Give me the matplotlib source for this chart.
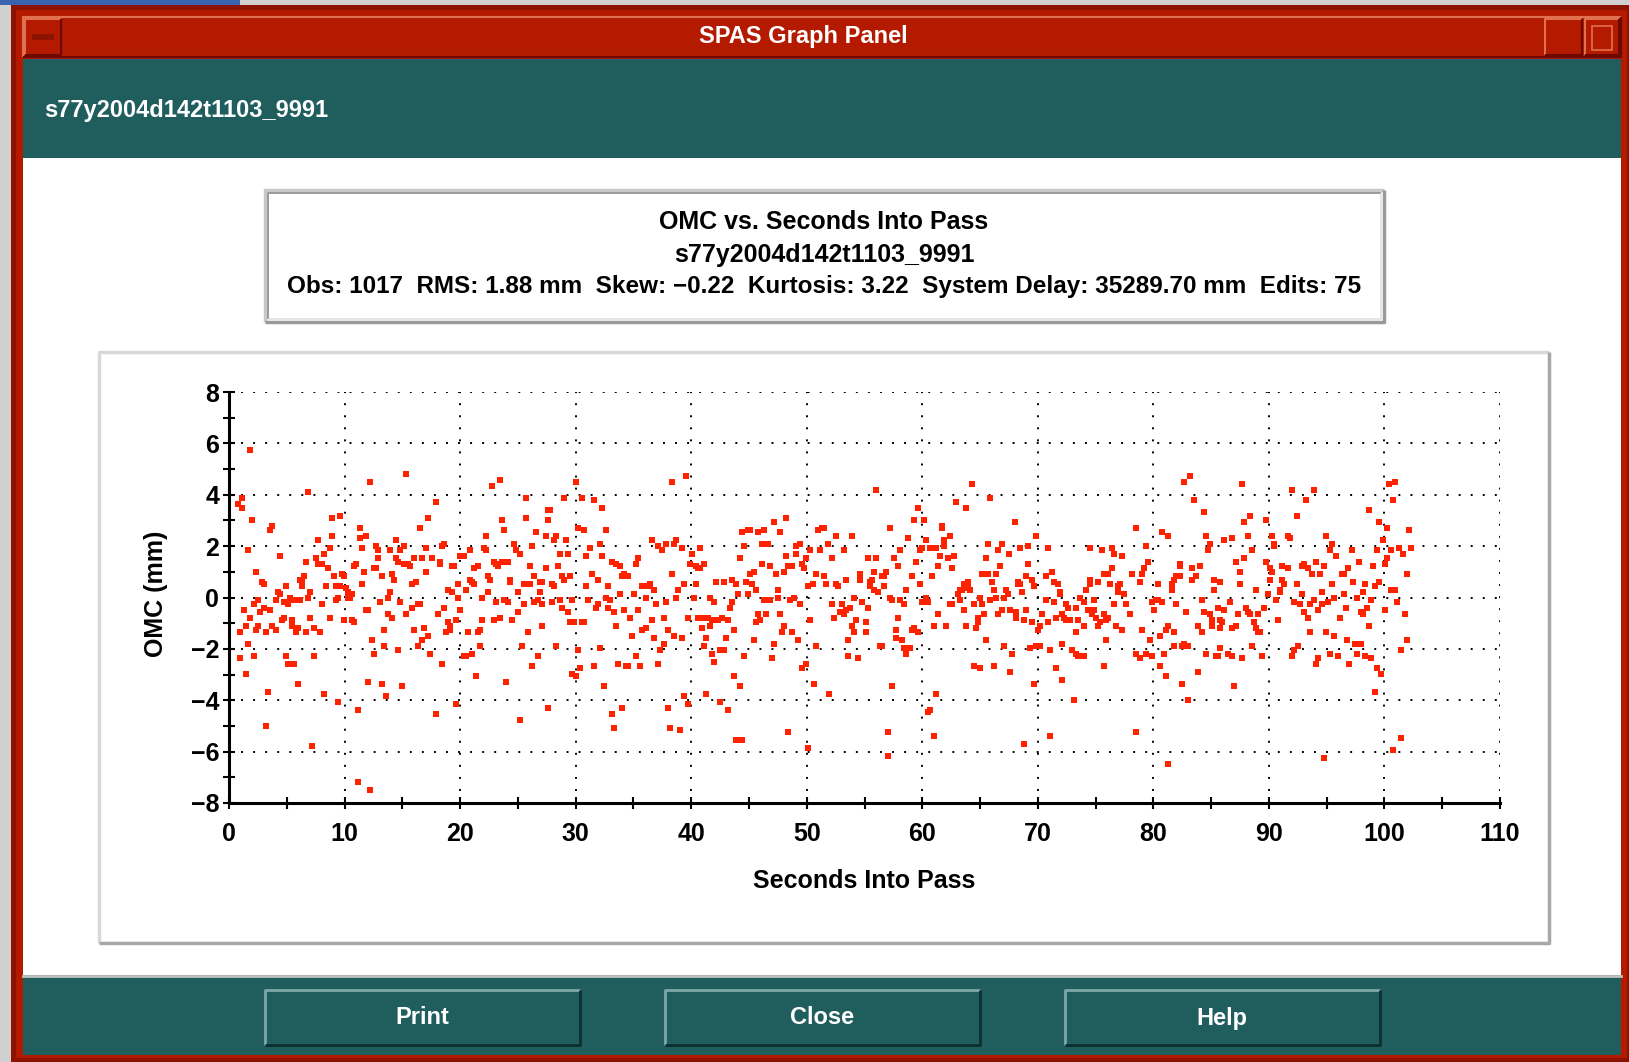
import matplotlib
matplotlib.use("Agg")
import matplotlib.pyplot as plt
from matplotlib.patches import Rectangle
from matplotlib.ticker import MultipleLocator

# --- texts -------------------------------------------------------------
window_title = "SPAS Graph Panel"
pass_id = "s77y2004d142t1103_9991"
chart_title = "OMC vs. Seconds Into Pass"
obs, rms, skew, kurt, delay, edits = 1017, 1.88, -0.22, 3.22, 35289.70, 75
x_label = "Seconds Into Pass"
y_label = "OMC (mm)"
buttons = ["Print", "Close", "Help"]
x_ticks = list(range(0, 111, 10))
y_ticks = list(range(-8, 9, 2))

pts_00_14 = [(1.82,5.74),(12.2,4.48),(6.84,4.09),(0.81,3.64),(1.13,3.87),(1.13,3.48),(1.99,3.01),(3.72,2.78),(3.55,2.62),(8.92,3.09),(9.61,3.17),(8.92,2.39),(7.71,2.23),(11.34,2.70),(11.86,2.39),(11.34,2.31),(11.5,1.92),(1.65,1.84),(4.42,1.61),(8.74,1.92),(8.23,1.69),(7.53,1.53),(7.71,1.30),(8.05,1.30),(6.67,1.38),(8.57,1.14),(9.09,0.83),(9.78,0.91),(9.96,0.83),(9.26,0.44),(9.61,0.44),(10.13,0.36),(10.3,0.21),(10.65,0.13),(10.3,-0.03),(10.48,-0.03),(9.44,-0.03),(9.26,-0.10),(10.82,1.22),(11.0,1.30),(11.69,0.99),(11.5,0.52),(12.73,2.0),(12.9,1.84),(12.9,1.53),(12.55,1.14),(12.73,1.14),(13.25,0.83),(13.07,-0.18),(11.86,-0.49),(12.03,-0.49),(9.96,-0.88),(10.65,-0.88),(10.82,-0.96),(12.38,-1.66),(13.42,-1.27),(13.42,-1.90),(12.55,-2.21),(12.03,-3.30),(13.25,-3.38),(13.6,-3.84),(11.17,-4.39),(9.44,-4.08),(8.23,-3.77),(7.19,-5.79),(3.2,-5.01),(3.38,-3.69),(5.97,-3.38),(1.47,-2.99),(0.95,-2.36),(2.16,-2.29),(4.93,-2.29),(5.11,-2.60),(5.63,-2.60),(7.36,-2.29),(1.65,-1.82),(0.95,-1.35),(1.47,-1.12),(1.82,-0.81),(1.3,-0.49),(2.16,-0.26),(2.51,-0.10),(2.68,-0.57),(2.34,-1.27),(2.51,-1.12),(3.03,-0.42),(3.2,-1.35),(3.55,-0.49),(3.72,-1.12),(4.07,-1.27),(4.07,-0.10),(4.24,0.21),(4.42,0.13),(4.76,-0.18),(4.93,0.44),(4.59,-0.88),(4.76,-0.81),(5.11,-0.26),(5.28,-0.03),(5.45,-0.88),(5.45,-1.12),(5.63,-0.10),(5.97,-1.19),(5.8,-1.35),(6.15,-0.10),(6.15,0.68),(6.32,0.60),(6.32,0.44),(6.5,0.83),(6.84,-0.03),(7.01,0.21),(7.01,-0.81),(6.67,-1.35),(7.36,-1.19),(7.88,-1.35),(8.05,-0.26),(8.74,-0.81),(8.4,0.44),(2.34,0.99),(2.86,0.60),(3.03,0.52),(11.17,-7.19),(12.2,-7.51)]

pts_14_27 = [(15.32,4.81),(17.92,3.71),(17.23,3.09),(16.54,2.70),(14.46,2.23),(13.94,1.84),(14.8,1.84),(15.15,2.0),(14.46,1.53),(14.63,1.38),(15.15,1.30),(15.5,1.30),(15.67,1.22),(16.02,1.53),(16.71,1.53),(17.07,1.92),(17.58,1.53),(18.27,1.38),(18.27,1.30),(18.44,2.0),(18.62,2.08),(17.07,0.99),(14.11,0.91),(14.29,0.68),(13.94,0.21),(13.77,-0.03),(14.8,-0.18),(15.84,0.52),(16.19,0.60),(15.84,-0.42),(16.36,-0.26),(16.54,-0.26),(13.77,-0.65),(14.11,-0.81),(15.32,-0.65),(16.02,-1.27),(16.88,-1.19),(16.71,-1.66),(17.23,-1.51),(14.63,-2.05),(16.36,-1.90),(17.4,-2.21),(18.44,-2.60),(18.1,-0.65),(18.62,-0.42),(18.96,0.29),(19.31,0.21),(18.96,-0.96),(19.13,-1.12),(19.13,-1.27),(18.79,-1.35),(19.65,-0.88),(19.31,1.22),(19.48,1.22),(19.83,0.52),(19.83,-0.03),(20.0,-0.49),(20.0,1.61),(20.35,1.61),(20.87,1.84),(20.52,0.29),(20.87,0.68),(21.04,0.60),(21.21,0.52),(21.21,1.14),(21.56,1.22),(21.9,-0.03),(22.25,2.39),(22.08,1.92),(22.25,1.84),(22.77,4.34),(23.46,4.57),(23.64,3.01),(23.81,2.62),(22.94,1.38),(23.12,1.30),(23.29,1.22),(23.64,1.38),(24.16,1.38),(22.42,0.83),(22.6,0.68),(22.42,0.21),(23.12,-0.18),(23.81,-0.10),(24.16,-0.18),(21.9,-0.88),(22.94,-0.88),(23.46,-0.81),(21.73,-1.27),(21.56,-1.35),(20.7,-1.35),(21.73,-1.90),(21.04,-2.21),(20.52,-2.29),(20.35,-2.29),(21.39,-3.06),(23.99,-3.30),(24.5,-0.88),(25.03,-0.57),(25.37,-1.90),(24.33,0.68),(24.33,0.60),(25.03,0.21),(25.55,0.52),(25.55,-0.26),(24.68,2.08),(24.85,1.84),(25.2,1.69),(25.72,3.87),(25.72,3.09),(26.6,2.55),(26.24,2.0),(26.07,1.22),(26.07,0.52),(26.41,0.83),(26.41,-0.18),(26.76,-0.10),(25.89,-1.35),(26.76,-2.29),(26.24,-2.68),(25.2,-4.78),(17.92,-4.55),(19.65,-4.16),(14.98,-3.45)]

pts_27_41 = [(26.93,0.60),(27.1,0.60),(26.93,0.21),(27.1,-0.26),(27.1,-1.12),(27.62,3.40),(27.79,3.40),(27.62,3.01),(27.45,2.39),(28.31,2.39),(28.14,2.23),(29.0,3.87),(29.18,2.23),(28.66,1.69),(29.35,1.69),(27.45,1.14),(28.48,1.22),(28.83,0.83),(29.0,0.68),(27.97,0.52),(28.14,0.44),(29.52,0.83),(27.97,-0.18),(28.66,-0.10),(28.83,-0.42),(29.35,-0.57),(29.7,-0.10),(29.52,-0.96),(29.87,-0.96),(30.56,-0.96),(30.74,-0.96),(28.31,-1.90),(30.04,4.49),(30.56,3.87),(31.6,3.79),(32.3,3.48),(30.22,2.70),(30.74,2.62),(32.64,2.62),(31.26,1.92),(32.12,2.08),(30.91,1.61),(32.29,1.61),(31.43,0.91),(31.95,0.68),(30.91,0.44),(31.08,-0.10),(31.77,-0.42),(31.95,-0.26),(32.64,-0.03),(32.81,0.44),(32.99,-0.10),(32.81,-0.42),(33.33,-0.57),(33.16,1.38),(33.51,1.30),(33.85,1.22),(34.03,0.83),(34.2,0.91),(34.55,0.83),(33.85,0.13),(34.2,-0.49),(33.51,-1.12),(34.72,-0.81),(34.89,-1.51),(35.06,0.13),(35.41,-0.49),(35.24,1.30),(35.41,1.53),(35.76,0.44),(36.1,-0.03),(36.28,0.44),(36.45,0.52),(36.8,0.29),(36.97,-0.26),(36.62,-0.88),(35.76,-1.27),(36.1,-1.19),(36.8,-1.58),(37.32,-2.05),(37.66,-1.82),(37.14,-2.60),(35.24,-2.29),(35.58,-2.68),(34.38,-2.68),(34.55,-2.68),(33.68,-2.60),(32.12,-1.97),(31.6,-2.68),(32.47,-3.45),(30.22,-2.05),(30.39,-2.75),(29.7,-2.99),(30.04,-3.06),(27.62,-4.31),(33.16,-4.55),(33.33,-5.09),(34.03,-4.31),(37.99,-4.31),(38.18,-5.09),(39.05,-5.17),(39.39,-3.84),(39.74,-4.16),(36.62,2.23),(37.14,2.0),(37.49,1.84),(37.84,2.08),(38.53,2.08),(38.7,2.23),(39.22,1.92),(38.35,0.91),(38.87,0.29),(39.39,0.52),(37.84,-0.18),(38.7,-0.03),(37.66,-0.81),(37.99,-1.27),(38.53,-1.51),(39.22,-1.58),(38.36,4.49),(39.57,4.73),(40.09,1.69),(39.91,1.30),(40.43,1.22),(40.61,1.14),(40.43,0.52),(40.26,-0.03),(39.74,-0.81),(40.61,-0.81)]

pts_41_55 = [(40.78,1.92),(40.78,1.14),(41.13,1.30),(42.16,0.60),(42.86,0.60),(43.55,0.68),(43.9,0.52),(41.65,-0.03),(42.0,-0.18),(40.95,-0.81),(41.47,-0.81),(41.82,-0.88),(42.34,-0.88),(42.69,-0.81),(43.21,-0.88),(40.95,-1.19),(41.65,-1.12),(41.3,-1.58),(41.13,-1.90),(43.03,-1.58),(42.51,-2.05),(42.69,-2.05),(42.86,-2.05),(41.82,-2.21),(42.0,-2.52),(43.72,-3.06),(44.24,-3.45),(41.3,-3.77),(42.51,-4.08),(43.21,-4.39),(43.9,-5.56),(44.42,-5.56),(43.38,-0.42),(43.55,-0.18),(43.72,-1.27),(44.07,0.13),(44.24,1.53),(44.42,2.55),(44.59,2.0),(44.94,2.62),(45.11,2.62),(45.8,2.55),(46.33,2.62),(46.15,2.08),(46.67,2.08),(47.19,2.94),(47.71,2.55),(48.23,3.09),(48.23,1.61),(49.09,2.0),(49.09,1.69),(49.44,2.08),(49.61,1.30),(49.79,1.14),(49.96,1.53),(50.3,1.84),(44.76,0.60),(45.11,0.91),(45.46,0.99),(44.94,0.13),(45.28,0.52),(45.63,0.29),(46.15,1.30),(46.85,1.22),(47.37,0.91),(48.05,0.99),(48.4,1.22),(48.74,1.22),(47.54,0.29),(46.33,-0.10),(46.85,-0.10),(47.54,-0.03),(48.57,-0.10),(48.92,-0.03),(49.44,-0.26),(45.8,-0.65),(45.63,-0.96),(45.98,-0.88),(46.5,-0.65),(47.71,-0.65),(48.05,-1.12),(47.88,-1.35),(48.74,-1.35),(49.26,-1.66),(45.46,-1.66),(44.59,-2.29),(47.01,-2.36),(47.19,-1.82),(49.61,-2.75),(49.96,-2.60),(48.4,-5.25),(50.13,-5.87),(50.13,0.44),(50.56,0.52),(50.3,-0.88),(50.82,0.91),(51.0,2.62),(51.34,2.70),(51.52,2.70),(51.17,1.84),(51.86,2.08),(52.21,1.53),(52.55,2.39),(53.25,1.84),(53.94,2.39),(51.52,0.83),(51.69,0.52),(52.55,0.52),(52.73,0.44),(53.42,0.68),(54.11,-0.03),(52.21,-0.26),(53.07,-0.26),(52.9,-0.57),(53.25,-0.65),(53.42,-0.49),(53.77,-0.42),(52.38,-0.81),(54.29,-0.88),(53.94,-1.12),(54.11,-1.35),(50.82,-1.90),(53.6,-1.66),(53.6,-2.29),(54.46,-2.36),(50.65,-3.38),(51.95,-3.77)]

pts_55_68 = [(54.63,0.91),(54.63,0.68),(54.81,-0.18),(56.02,4.18),(55.33,1.53),(56.02,1.53),(55.85,0.99),(55.67,0.68),(55.5,0.60),(55.5,0.44),(55.85,0.29),(56.19,0.21),(56.54,0.83),(56.89,0.99),(56.71,0.83),(56.71,0.44),(57.23,2.70),(55.33,-0.42),(55.15,-0.96),(55.15,-1.35),(57.23,-0.03),(57.4,-0.10),(57.58,1.53),(57.92,1.22),(58.1,1.84),(58.62,0.29),(58.1,-0.10),(58.44,-0.26),(57.92,-0.81),(57.75,-1.27),(57.75,-1.58),(58.27,-1.66),(58.44,-1.97),(58.62,-2.21),(58.96,-1.97),(56.37,-1.90),(56.54,-1.90),(57.4,-3.45),(57.0,-5.25),(57.06,-6.18),(58.79,2.31),(59.3,3.01),(59.65,3.48),(60.17,3.01),(59.13,0.83),(59.48,1.38),(59.83,1.84),(60.0,1.92),(60.35,2.23),(60.69,1.92),(61.21,1.92),(59.83,0.52),(60.0,-0.18),(60.35,-0.03),(60.52,-0.18),(60.87,0.83),(59.13,-1.27),(59.3,-1.19),(59.65,-1.35),(61.21,-3.77),(60.52,-4.47),(60.69,-4.39),(61.04,-5.40),(61.04,-1.12),(61.39,-0.65),(61.39,1.22),(61.56,1.61),(61.73,2.78),(61.73,2.70),(61.9,2.23),(61.9,2.0),(62.42,2.39),(62.25,1.53),(62.77,1.61),(62.6,1.14),(62.08,-1.12),(62.42,-0.26),(62.6,-0.26),(62.94,3.71),(63.8,3.48),(64.33,4.42),(65.88,3.87),(68.0,2.94),(63.1,0.13),(63.3,0.29),(63.46,0.29),(63.3,-0.10),(63.64,-0.49),(63.64,0.52),(63.8,0.44),(63.98,0.60),(64.15,0.29),(64.0,0.36),(63.8,-1.12),(64.5,-0.26),(64.67,-1.19),(64.85,-0.88),(64.85,-0.96),(64.85,-0.81),(65.0,-0.03),(65.2,-0.26),(65.37,-0.65),(64.5,-2.68),(65.0,-2.75),(65.54,-1.66),(65.54,1.53),(65.2,0.91),(65.71,0.91),(65.71,2.08),(65.88,-0.10),(66.06,0.60),(66.23,0.29),(66.4,0.91),(66.4,-0.03),(66.58,1.84),(66.58,-0.65),(66.75,1.22),(66.92,2.08),(66.92,-0.49),(67.1,-0.03),(67.1,-1.90),(67.27,0.29),(67.44,0.13),(67.5,1.69),(67.62,-0.49),(67.79,-2.21),(67.62,-2.91),(66.23,-2.68),(68.13,-0.57),(68.13,-0.81),(68.31,0.60),(68.31,0.52)]

pts_68_82 = [(68.48,1.92),(69.18,2.0),(69.87,2.39),(70.91,1.92),(68.48,0.52),(68.66,0.21),(69.0,0.83),(69.18,1.30),(69.52,0.68),(69.7,0.44),(69.0,-0.49),(68.83,-0.88),(69.52,-0.96),(70.04,-1.27),(70.22,-1.12),(70.39,-0.65),(70.74,-0.10),(70.74,0.83),(71.26,0.99),(71.43,0.60),(71.78,0.52),(71.95,0.21),(71.95,0.13),(71.43,-0.18),(70.91,-0.96),(71.6,-0.81),(72.13,-0.65),(72.47,-0.26),(72.65,-0.42),(72.3,-0.81),(72.47,-0.88),(72.65,-0.88),(72.82,-0.88),(73.34,-0.42),(73.51,-0.88),(73.69,-0.03),(74.03,-0.18),(74.2,0.29),(74.55,0.68),(74.55,0.52),(74.9,-0.10),(74.38,-0.49),(74.55,-0.49),(74.72,-0.57),(74.9,-0.49),(74.72,-0.65),(75.07,-0.81),(75.24,-1.12),(75.42,-0.96),(75.76,-0.65),(76.11,-0.81),(75.94,-0.88),(75.24,0.60),(75.76,0.91),(76.11,0.91),(76.28,0.52),(76.63,-0.26),(76.98,0.21),(76.98,0.44),(77.15,0.52),(77.5,0.13),(77.67,-0.26),(77.32,-1.27),(76.8,-1.12),(78.02,-0.65),(75.94,-1.66),(75.76,-2.68),(76.45,1.14),(76.45,1.92),(76.63,1.69),(77.32,1.61),(75.59,1.84),(74.55,1.92),(78.19,0.91),(78.53,2.70),(78.88,0.60),(79.05,0.91),(79.23,1.14),(79.57,1.38),(79.4,2.0),(79.05,-1.27),(78.53,-2.21),(78.87,-2.36),(79.4,-2.21),(79.92,-2.29),(79.75,-1.66),(79.92,-0.18),(80.09,-0.49),(80.26,-0.10),(80.43,-0.10),(80.78,-0.18),(80.43,0.52),(80.61,-1.51),(80.96,-2.21),(80.61,-2.68),(81.13,-3.06),(81.13,-1.27),(81.3,-1.12),(81.82,-1.35),(81.82,-1.90),(69.7,-3.38),(71.6,-2.75),(72.13,-3.22),(73.16,-4.0),(71.08,-5.40),(68.83,-5.71),(78.53,-5.25),(81.3,-6.49),(69.87,-1.90),(70.22,-1.90),(71.08,-2.05),(69.35,-1.97),(72.13,-1.82),(72.99,-2.05),(73.34,-2.21),(73.51,-2.29),(74.03,-2.29),(73.34,-1.35),(74.03,-1.12),(80.78,2.55),(81.3,2.39),(81.65,0.29),(81.65,0.52),(81.82,0.68),(81.99,0.83),(82.17,0.83),(81.99,-0.26)]

pts_82_96 = [(82.68,4.49),(83.2,4.73),(83.55,3.79),(84.42,3.32),(82.34,1.30),(82.34,1.22),(82.34,0.83),(83.38,1.14),(84.07,1.22),(83.38,0.68),(83.72,0.83),(84.59,2.39),(84.94,2.08),(84.76,1.84),(86.15,2.23),(86.84,2.31),(85.28,0.68),(85.28,0.29),(85.8,0.60),(84.24,-0.10),(82.86,-0.57),(84.42,-0.57),(84.94,-0.65),(85.11,-0.88),(85.11,-1.12),(85.63,-0.42),(86.15,-0.49),(85.8,-0.88),(85.98,-0.96),(85.8,-1.19),(86.67,-0.18),(86.84,-1.19),(87.19,-1.12),(87.36,-0.65),(83.9,-1.12),(84.24,-1.35),(82.51,-1.90),(82.68,-1.82),(83.03,-1.90),(84.59,-2.21),(85.46,-2.29),(85.63,-2.29),(85.8,-1.97),(86.5,-2.21),(86.84,-2.29),(87.71,-2.36),(83.9,-2.91),(82.51,-3.38),(83.03,-4.0),(87.01,-3.45),(87.71,4.42),(87.88,2.94),(88.4,3.17),(88.23,2.39),(88.57,1.84),(87.88,1.53),(87.19,1.38),(87.53,0.99),(87.53,0.52),(88.06,-0.42),(88.23,-0.57),(88.4,-0.65),(88.92,0.29),(88.75,-0.96),(88.92,-1.19),(89.09,-1.35),(89.27,-1.35),(89.09,-0.65),(89.61,-0.42),(88.57,-1.90),(89.44,-2.29),(89.79,3.01),(89.79,1.38),(89.96,0.13),(90.13,1.14),(90.13,0.68),(90.3,2.39),(90.3,0.99),(90.48,2.08),(90.48,2.0),(90.65,-0.10),(90.82,-0.88),(91.0,0.29),(91.0,0.21),(91.17,1.22),(91.17,0.68),(91.34,0.52),(91.69,2.39),(91.86,2.31),(91.69,1.14),(92.03,4.18),(92.39,3.17),(92.21,-0.18),(92.39,0.52),(92.03,-2.29),(92.21,-2.05),(92.56,-1.90),(92.73,-0.26),(92.9,1.22),(92.9,0.13),(93.07,1.30),(93.07,-0.57),(93.25,3.79),(93.42,1.14),(93.42,-0.81),(93.59,-0.26),(93.59,-1.35),(93.77,0.91),(93.94,4.18),(93.94,-0.10),(94.11,1.38),(94.29,-0.49),(94.11,-2.60),(94.29,-2.36),(94.46,0.91),(94.63,0.21),(94.63,-0.26),(94.81,1.22),(94.81,-6.26),(94.98,2.39),(94.98,-1.35),(95.15,-0.18),(95.32,1.84),(95.5,2.08),(95.5,0.52),(95.32,-2.21),(95.67,-0.03),(95.67,-1.51),(95.84,1.61),(96.02,-2.29)]

pts_96_103 = [(96.19,-0.81),(96.36,0.91),(96.54,0.91),(96.54,0.13),(96.71,-0.42),(96.77,-1.66),(96.88,1.14),(96.94,-2.60),(97.23,1.84),(97.29,0.60),(97.46,-1.82),(97.63,-0.03),(97.63,-2.21),(97.8,1.38),(97.98,-1.82),(97.98,-0.57),(98.15,0.21),(98.15,-0.65),(98.33,0.52),(98.33,-2.29),(98.5,-0.42),(98.67,-1.12),(98.67,3.40),(98.85,-0.10),(98.85,-2.36),(99.02,1.22),(99.19,0.44),(99.19,-3.69),(99.37,1.84),(99.37,-2.75),(99.54,2.94),(99.54,0.60),(99.71,-2.99),(99.89,2.23),(100.06,1.30),(100.06,-0.49),(100.23,2.70),(100.23,1.53),(100.41,4.42),(100.58,1.84),(100.58,0.29),(100.75,3.79),(100.75,-5.95),(100.93,4.49),(100.93,0.29),(101.1,-0.18),(101.27,1.92),(101.44,-2.05),(101.44,-5.48),(101.62,1.69),(101.79,-0.65),(101.96,0.91),(101.96,-1.66),(102.14,2.62),(102.31,1.92)]

strips = [pts_00_14, pts_14_27, pts_27_41, pts_41_55, pts_55_68, pts_68_82, pts_82_96, pts_96_103]
seconds = [p[0] for s in strips for p in s]
omc = [p[1] for s in strips for p in s]

# --- look ----------------------------------------------------------------
W, H = 1629, 1062
RED = "#B31A00"
TEAL = "#205D5D"
FONT = ["Liberation Sans Narrow", "Liberation Sans", "DejaVu Sans"]
plt.rcParams["font.family"] = FONT
plt.rcParams["font.weight"] = "bold"
plt.rcParams["axes.labelweight"] = "bold"

fig = plt.figure(figsize=(W / 100, H / 100), dpi=100)

# window chrome drawn in pixel coordinates on a background axes
bg = fig.add_axes([0, 0, 1, 1])
bg.set_xlim(0, W)
bg.set_ylim(H, 0)
bg.axis("off")


def box(x0, y0, x1, y1, fc, ec="none", lw=0):
    bg.add_patch(Rectangle((x0, y0), x1 - x0, y1 - y0, facecolor=fc, edgecolor=ec, linewidth=lw))


def bevel(x0, y0, x1, y1, light, dark, lw=2):
    bg.plot([x0, x0, x1], [y1, y0, y0], color=light, lw=lw, solid_capstyle="butt")
    bg.plot([x0, x1, x1], [y1, y1, y0], color=dark, lw=lw, solid_capstyle="butt")


box(0, 0, W, H, "#D0D0D0")
box(0, 0, 240, 5, "#3A64B0")
box(11, 5, W, H, "#8E1200")
box(16, 10, W - 2, H - 4, RED)
# title bar
box(23, 17, W - 8, 57, RED)
bevel(23, 17, W - 8, 57, "#E07050", "#6A0A00", 1.5)
bevel(25, 19, 61, 55, "#E07050", "#6A0A00", 1.5)
box(32, 34, 54, 40, "#8E1200")
bevel(1545, 19, 1582, 55, "#E07050", "#6A0A00", 1.5)
bevel(1585, 19, W - 10, 55, "#E07050", "#6A0A00", 1.5)
box(1592, 26, 1612, 50, RED, "#E07050", 1.2)
bg.text(803, 37, window_title, color="white", fontsize=17, ha="center", va="center")
# header band
box(23, 59, W - 8, 158, TEAL)
bg.text(44, 110, pass_id, color="white", fontsize=17, ha="left", va="center")
# white panel
box(23, 158, W - 8, 975, "white")
# title box
bevel(265, 190, 1384, 322, "#C8C8C8", "#9A9A9A", 2.5)
bevel(268, 193, 1381, 319, "#8A8A8A", "#E0E0E0", 1.2)
stats = (f"Obs: {obs}  RMS: {rms:.2f} mm  Skew: {skew:.2f}  Kurtosis: {kurt:.2f}  "
         f"System Delay: {delay:.2f} mm  Edits: {edits}").replace("-", "\u2212")
for y, t, fs in zip([222, 255, 287], [chart_title, pass_id, stats], [18, 18, 17.5]):
    bg.text(824, y, t, color="black", fontsize=fs, ha="center", va="center")
# plot frame
bevel(99, 352, 1549, 943, "#D8D8D8", "#A8A8A8", 2.5)
# bottom band and buttons
box(23, 975, W - 8, 1055, TEAL)
bg.plot([23, W - 8], [976, 976], color="#C0C0C0", lw=2)
for name, x0 in zip(buttons, [265, 665, 1065]):
    box(x0, 990, x0 + 315, 1045, TEAL)
    bevel(x0, 990, x0 + 315, 1045, "#7FA8A8", "#0C2E2E", 2)
    bg.text(x0 + 157, 1018, name, color="white", fontsize=17, ha="center", va="center")

# --- the plot ------------------------------------------------------------
ax = fig.add_axes([229 / W, 1 - 803 / H, (1500 - 229) / W, (803 - 392) / H])
ax.patch.set_visible(False)
ax.scatter(seconds, omc, marker="s", s=13, color="#FF2200", linewidths=0, zorder=3)
ax.set_xlim(0, 110)
ax.set_ylim(-8, 8)
ax.set_xticks(x_ticks)
ax.set_yticks(y_ticks)
ax.xaxis.set_minor_locator(MultipleLocator(5))
ax.yaxis.set_minor_locator(MultipleLocator(1))
ax.grid(True, which="major", color="black", linestyle=(0, (1, 5.2)), linewidth=1.4, zorder=1)
for side in ["top", "right"]:
    ax.spines[side].set_visible(False)
for side in ["left", "bottom"]:
    ax.spines[side].set_linewidth(2.2)
ax.tick_params(which="both", direction="inout", length=8, width=1.5, labelsize=18)
ax.tick_params(axis="x", which="major", pad=10)
ax.tick_params(axis="y", which="major", pad=3)
ax.set_xlabel(x_label, fontsize=18, fontweight="bold")
ax.set_ylabel(y_label, fontsize=18, fontweight="bold")
ax.xaxis.set_label_coords(0.5, -0.19)
ax.xaxis.label.set_va("center")
ax.yaxis.set_label_coords(-0.0574, 0.508)
ax.yaxis.label.set_va("center")

fig.savefig("out.png", dpi=100)
